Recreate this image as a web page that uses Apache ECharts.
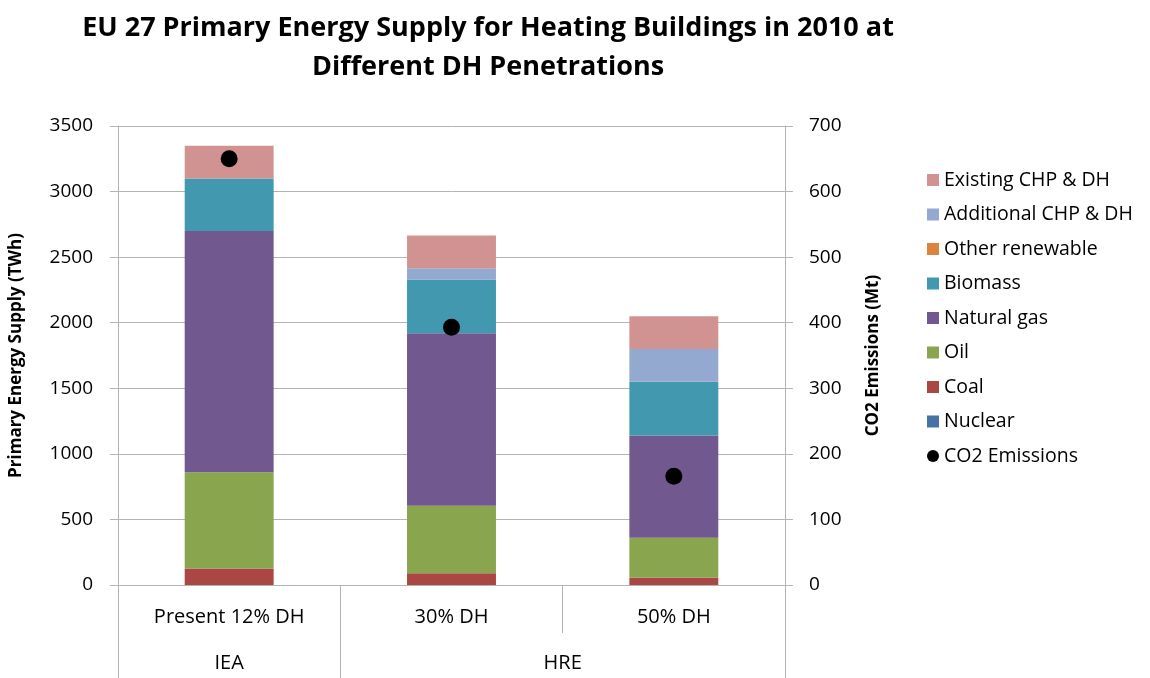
<!DOCTYPE html>
<html>
<head>
<meta charset="utf-8">
<script src="https://cdn.jsdelivr.net/npm/echarts@6/dist/echarts.min.js"></script>
<style>
  html, body { margin: 0; padding: 0; background: #fff; }
  #chart { width: 1150px; height: 678px; }
</style>
</head>
<body>
<div id="chart"></div>
<script>
// categories
var categories = ["Present 12% DH", "30% DH", "50% DH"];
var groupLabels = ["IEA", "HRE"];
// group boundaries in category units
var groupEdges = [0, 1, 3];

// stacked segments, TWh (bottom to top)
var nuclear = [0, 0, 0];
var coal = [125, 90, 55];
var oil = [735, 515, 305];
var naturalGas = [1840, 1315, 780];
var biomass = [400, 410, 410];
var otherRenewable = [0, 0, 0];
var additionalCHP = [0, 85, 250];
var existingCHP = [250, 250, 250];

// Mt
var co2 = [650, 393, 166];

var font = "Open Sans";
var gridColor = "#b4b4b4";

function barSeries(name, data, color) {
  return {
    name: name,
    type: "bar",
    stack: "energy",
    barWidth: "40%",
    data: data,
    itemStyle: { color: color },
    emphasis: { disabled: true }
  };
}

function plain(v) { return String(v); }

var chart = echarts.init(document.getElementById("chart"));
var option = {
  animation: false,
  textStyle: { fontFamily: font },
  title: {
    text: "EU 27 Primary Energy Supply for Heating Buildings in 2010 at\nDifferent DH Penetrations",
    left: 483,
    textAlign: "center",
    top: 4,
    textStyle: { fontFamily: font, fontSize: 27, fontWeight: "bold", color: "#000", lineHeight: 39 }
  },
  legend: {
    orient: "vertical",
    left: 922,
    top: 165,
    itemWidth: 12,
    itemHeight: 12,
    itemGap: 14.5,
    data: [
      { name: "Existing CHP & DH", icon: "rect" },
      { name: "Additional CHP & DH", icon: "rect" },
      { name: "Other renewable", icon: "rect" },
      { name: "Biomass", icon: "rect" },
      { name: "Natural gas", icon: "rect" },
      { name: "Oil", icon: "rect" },
      { name: "Coal", icon: "rect" },
      { name: "Nuclear", icon: "rect" },
      { name: "CO2 Emissions", icon: "circle" }
    ],
    textStyle: { fontFamily: font, fontSize: 19.5, color: "#000", lineHeight: 20 }
  },
  grid: { left: 117, right: 365, top: 126, bottom: 93 },
  xAxis: [
    {
      type: "category",
      data: categories,
      axisLine: { show: true, lineStyle: { color: gridColor } },
      axisTick: { show: true, length: 48, lineStyle: { color: gridColor } },
      axisLabel: { fontFamily: font, fontSize: 20, color: "#000", margin: 22 }
    },
    {
      type: "value",
      min: 0,
      max: 3,
      position: "bottom",
      offset: 48,
      axisLine: { show: false },
      splitLine: { show: false },
      axisTick: { show: false },
      axisLabel: {
        customValues: [0.5, 2],
        fontFamily: font, fontSize: 20, color: "#000", margin: 20,
        formatter: function (v) { return v < 1 ? groupLabels[0] : groupLabels[1]; }
      }
    }
  ],
  yAxis: [
    {
      type: "value",
      min: 0,
      max: 3500,
      interval: 500,
      name: "Primary Energy Supply (TWh)",
      nameLocation: "middle",
      nameRotate: 90,
      nameGap: 93,
      nameTextStyle: { fontFamily: font, fontSize: 17, fontWeight: "bold", color: "#000" },
      axisLine: { show: true, lineStyle: { color: gridColor } },
      axisTick: { show: true, length: 8, lineStyle: { color: gridColor } },
      axisLabel: { fontFamily: font, fontSize: 19, color: "#000", margin: 25, formatter: plain },
      splitLine: { show: true, lineStyle: { color: gridColor, width: 1 } }
    },
    {
      type: "value",
      min: 0,
      max: 700,
      interval: 100,
      position: "right",
      name: "CO2 Emissions (Mt)",
      nameLocation: "middle",
      nameRotate: 90,
      nameGap: 80,
      nameTextStyle: { fontFamily: font, fontSize: 17, fontWeight: "bold", color: "#000" },
      axisLine: { show: true, lineStyle: { color: gridColor } },
      axisTick: { show: true, length: 8, lineStyle: { color: gridColor } },
      axisLabel: { fontFamily: font, fontSize: 19, color: "#000", margin: 24, formatter: plain },
      splitLine: { show: false }
    }
  ],
  series: [
    barSeries("Nuclear", nuclear, "#4572a7"),
    barSeries("Coal", coal, "#aa4643"),
    barSeries("Oil", oil, "#89a54e"),
    barSeries("Natural gas", naturalGas, "#71588f"),
    barSeries("Biomass", biomass, "#4198af"),
    barSeries("Other renewable", otherRenewable, "#db843d"),
    barSeries("Additional CHP & DH", additionalCHP, "#93a9cf"),
    barSeries("Existing CHP & DH", existingCHP, "#d19392"),
    {
      name: "CO2 Emissions",
      type: "scatter",
      yAxisIndex: 1,
      symbol: "circle",
      symbolSize: 17,
      data: co2,
      itemStyle: { color: "#000", opacity: 1 },
      emphasis: { disabled: true },
      z: 5
    }
  ]
};
chart.setOption(option);

// group separator lines under the category row
var baseY = chart.convertToPixel({ yAxisIndex: 0 }, 0);
var lines = groupEdges.map(function (e) {
  var x = Math.round(chart.convertToPixel({ xAxisIndex: 1 }, e)) + 0.5;
  return {
    type: "line",
    silent: true,
    shape: { x1: x, y1: baseY + 48, x2: x, y2: baseY + 95 },
    style: { stroke: gridColor, lineWidth: 1 }
  };
});
chart.setOption({ graphic: lines });
</script>
</body>
</html>
